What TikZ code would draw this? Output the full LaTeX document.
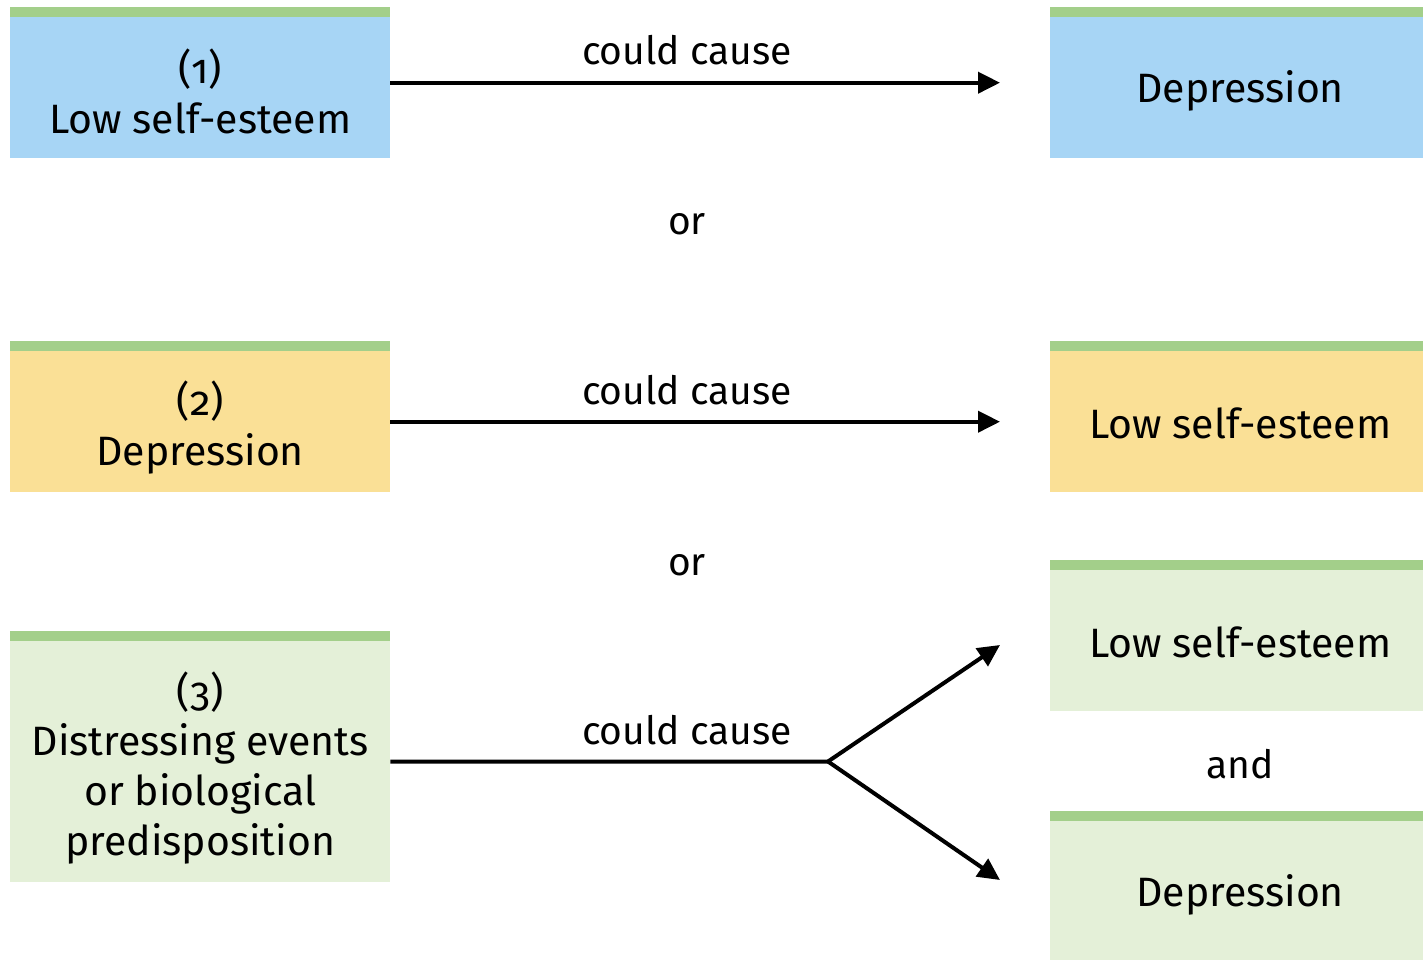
\documentclass[tikz,border=0pt]{standalone}
\usepackage{fontspec}
\setmainfont{Fira Sans}[Numbers=OldStyle]
\usetikzlibrary{arrows.meta}
\definecolor{bluebox}{RGB}{167,213,245}
\definecolor{yellowbox}{RGB}{250,224,150}
\definecolor{greenbox}{RGB}{228,240,216}
\definecolor{barcol}{RGB}{163,207,138}
\tikzset{
  box/.style={anchor=north west, inner sep=0pt, minimum width=380pt},
  txt/.style={inner sep=0pt, align=center, font=\fontsize{41}{49.7}\selectfont},
  bar/.style={fill=barcol},
  arr/.style={line width=4pt, -{Triangle[length=22pt,width=21pt]}},
  plain/.style={line width=4pt},
  lbl/.style={font=\fontsize{39}{44}\selectfont, inner sep=0pt}
}
\begin{document}
\begin{tikzpicture}[x=1pt,y=-1pt]
\useasboundingbox (0,0) rectangle (1423,959);
\clip (0,0) rectangle (1423,959);
% left boxes
\node[box, fill=bluebox, minimum height=141pt] (l1) at (10,17) {};
\node[box, fill=yellowbox, minimum height=141pt] (l2) at (10,351) {};
\node[box, fill=greenbox, minimum height=241pt] (l3) at (10,641) {};
% right boxes
\node[box, fill=bluebox, minimum height=141pt] (r1) at (1050,17) {};
\node[box, fill=yellowbox, minimum height=141pt] (r2) at (1050,351) {};
\node[box, fill=greenbox, minimum height=141pt] (r3) at (1050,570) {};
\node[box, fill=greenbox, minimum height=141pt] (r4) at (1050,821) {};
% green bars
\foreach \b in {l1,l2,l3,r1,r2,r3,r4}{
  \fill[bar] (\b.north west) rectangle ([yshift=10pt]\b.north east);
}
% box texts
\node[txt] (l1t) at ([yshift=-4pt]l1.center) {(1)\\Low self-esteem};
\node[txt] (l2t) at ([yshift=-6pt]l2.center) {(2)\\Depression};
\node[txt] (l3t) at ([yshift=-6pt]l3.center) {(3)\\Distressing events\\or biological\\predisposition};
\node[txt] (r1t) at ([yshift=-3pt]r1.center) {Depression};
\node[txt] (r2t) at ([yshift=-1.5pt]r2.center) {Low self-esteem};
\node[txt] (r3t) at ([yshift=-1.5pt]r3.center) {Low self-esteem};
\node[txt] (r4t) at ([yshift=-3pt]r4.center) {Depression};
% connectors
\draw[arr] ([yshift=5pt]l1.east) -- ([xshift=-50pt,yshift=5pt]r1.west);
\draw[arr] (l2.east) -- ([xshift=-50pt]r2.west);
\coordinate (fork) at (828,761.5);
\coordinate (t3) at (1000,645);
\coordinate (t4) at (1000,880);
\draw[plain] (l3.east) -- (fork);
\draw[arr] (fork) -- (t3);
\draw[arr] (fork) -- (t4);
% labels
\node[lbl] (c1) at (687,50) {could cause};
\node[lbl] (c2) at (687,390) {could cause};
\node[lbl] (c3) at (687,730) {could cause};
\node[lbl] (o1) at (687,224) {or};
\node[lbl] (o2) at (687,565) {or};
\node[lbl] (and) at (1240,764) {and};
\end{tikzpicture}
\end{document}
